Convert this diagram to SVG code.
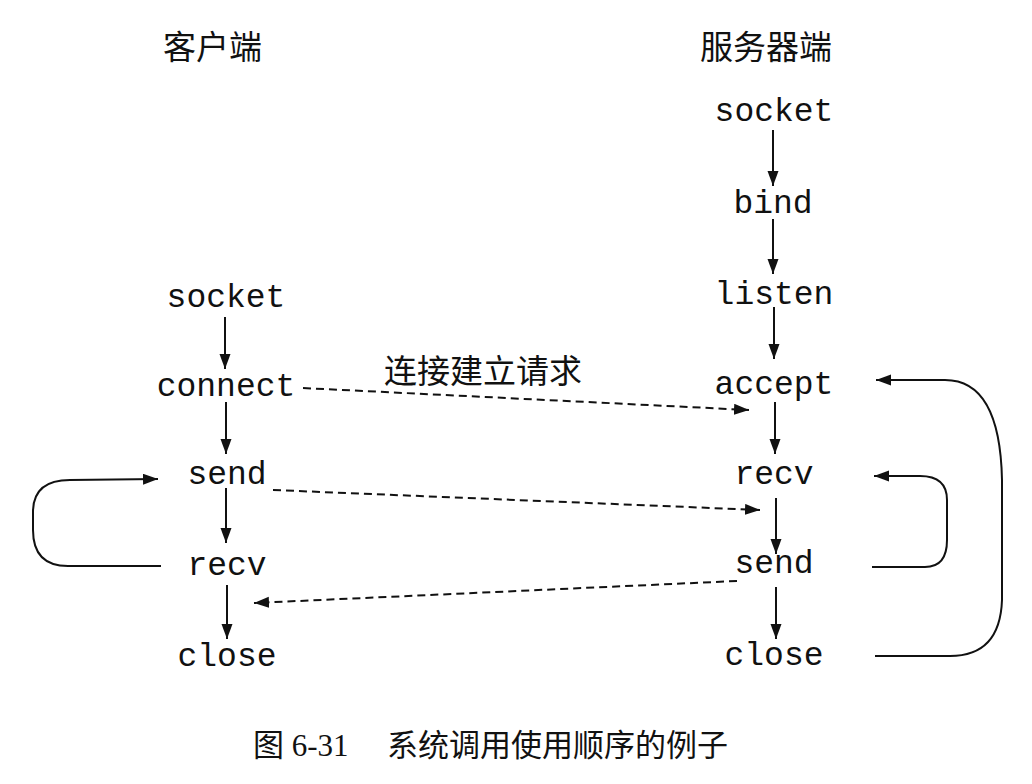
<svg xmlns="http://www.w3.org/2000/svg" width="1032" height="784" viewBox="0 0 1032 784">
<defs>
<style>
.fn{font-family:"Liberation Mono","DejaVu Sans Mono",monospace;font-size:33px;fill:#111;text-anchor:middle}
.hd{font-family:"Noto Sans CJK SC","Noto Sans CJK TC",sans-serif;font-size:33px;fill:#111}
.cap{font-family:"Liberation Serif","Noto Sans CJK SC",serif;font-size:31px;fill:#111}
.s{stroke:#111;stroke-width:2;fill:none}
.d{stroke:#111;stroke-width:2;fill:none;stroke-dasharray:8 5}
</style>
<marker id="ah" markerUnits="userSpaceOnUse" markerWidth="16" markerHeight="12" refX="15" refY="5.5" orient="auto">
<path d="M0,0 L15,5.5 L0,11 z" fill="#111"/>
</marker>
</defs>
<rect width="1032" height="784" fill="#fff"/>
<text class="hd" x="163" y="59">客户端</text>
<text class="hd" x="700" y="59">服务器端</text>
<g id="c_socket"><text class="fn" x="226" y="307">socket</text></g>
<g id="c_connect"><text class="fn" x="226" y="396">connect</text></g>
<g id="c_send"><text class="fn" x="227" y="484">send</text></g>
<g id="c_recv"><text class="fn" x="227" y="575">recv</text></g>
<g id="c_close"><text class="fn" x="227" y="666">close</text></g>
<g id="s_socket"><text class="fn" x="774" y="121">socket</text></g>
<g id="s_bind"><text class="fn" x="773" y="213">bind</text></g>
<g id="s_listen"><text class="fn" x="774" y="304">listen</text></g>
<g id="s_accept"><text class="fn" x="774" y="394">accept</text></g>
<g id="s_recv"><text class="fn" x="774" y="484">recv</text></g>
<g id="s_send"><text class="fn" x="774" y="573">send</text></g>
<g id="s_close"><text class="fn" x="774" y="665">close</text></g>
<g id="connectors">
<line class="s" x1="225" y1="317" x2="225" y2="369" marker-end="url(#ah)"/>
<line class="s" x1="226" y1="402" x2="226" y2="454" marker-end="url(#ah)"/>
<line class="s" x1="226" y1="488" x2="226" y2="543" marker-end="url(#ah)"/>
<line class="s" x1="227" y1="585" x2="227" y2="639" marker-end="url(#ah)"/>
<line class="s" x1="773" y1="130" x2="773" y2="186" marker-end="url(#ah)"/>
<line class="s" x1="773" y1="219" x2="773" y2="274" marker-end="url(#ah)"/>
<line class="s" x1="774" y1="307" x2="774" y2="359" marker-end="url(#ah)"/>
<line class="s" x1="775" y1="402" x2="775" y2="454" marker-end="url(#ah)"/>
<line class="s" x1="776" y1="498" x2="776" y2="554" marker-end="url(#ah)"/>
<line class="s" x1="776" y1="587" x2="776" y2="639" marker-end="url(#ah)"/>
<path class="s" d="M161,566 L68,566 Q33,566 33,530 L33,512 Q33,480 70,480 L158,479" marker-end="url(#ah)"/>
<path class="s" d="M875,656 L950,656 Q1000,656 1002,600 L1002,480 Q1000,380 945,380 L876,380" marker-end="url(#ah)"/>
<path class="s" d="M872,567 L925,567 Q947,567 947,540 L947,500 Q947,476 920,476 L874,476" marker-end="url(#ah)"/>
<path class="d" d="M303,388 L749,410" marker-end="url(#ah)"/>
<path class="d" d="M273,490 L760,510" marker-end="url(#ah)"/>
<path class="d" d="M737,581 L254,603" marker-end="url(#ah)"/>
</g>
<text class="hd" x="384" y="383">连接建立请求</text>
<text class="cap" x="253" y="756">图 6-31<tspan x="387">系统调用使用顺序的例子</tspan></text>
</svg>
